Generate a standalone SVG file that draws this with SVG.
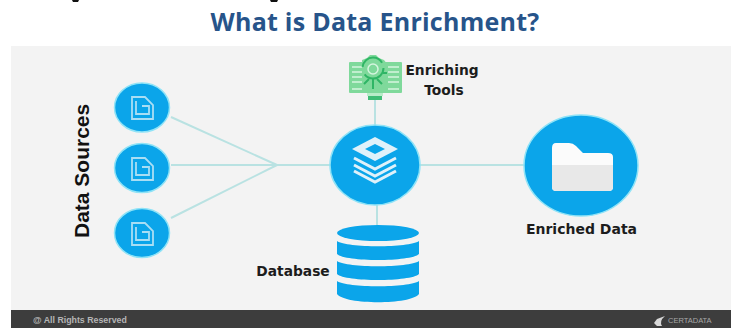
<svg xmlns="http://www.w3.org/2000/svg" width="731" height="328" viewBox="0 0 731 328">
<style>
.t{font-family:"DejaVu Sans",sans-serif;font-weight:700;fill:#1c1c1c;font-size:13.8px;text-anchor:middle}
.c{stroke:#b9e2e2;stroke-width:2;fill:none}
.b{fill:#0ba5ea}
.h{stroke:#8fe3f7;stroke-width:1.5}
.w{fill:#dff1fa}
.s{fill:none;stroke:#a9def4;stroke-width:1.8}
.g{fill:#7fd99b}
.gd{fill:none;stroke:#2fb565;stroke-width:2}
.gl{fill:none;stroke:#d6f5df;stroke-width:1.5}
</style>
<rect width="731" height="328" fill="#fff"/>
<rect x="11" y="46" width="720" height="282" fill="#f3f3f3"/>
<path d="M72 0h7l-1 2h-5zM270 0h8l-1 2h-6z" fill="#111"/>
<g id="title"><text x="375" y="31" text-anchor="middle" style="font-family:'Open Sans','Liberation Sans',sans-serif;font-weight:700;fill:#27548a;font-size:25px;letter-spacing:.25px">What is Data Enrichment?</text></g>
<g id="connectors">
<path class="c" d="M171 117L277 165M171 165H330M171 218L277 165M420 165H525M375 100V126M377 205V226"/>
</g>
<g id="source-label"><text transform="translate(88.500 238) rotate(-90)" style="font-family:'Liberation Sans',sans-serif;font-weight:700;fill:#111;font-size:21px">Data Sources</text></g>
<g id="source-1"><ellipse cx="142" cy="107.500" rx="27.500" ry="24.500" class="b h"/><path class="s" d="M132 97h13l8 8v14h-21zM136 101v13h13v-8h-7"/></g>
<g id="source-2"><ellipse cx="142" cy="168" rx="27.500" ry="24.500" class="b h"/><path class="s" d="M132 158h13l8 8v14h-21zM136 162v13h13v-8h-7"/></g>
<g id="source-3"><ellipse cx="142" cy="233" rx="27.500" ry="24.500" class="b h"/><path class="s" d="M132 223h13l8 8v14h-21zM136 227v13h13v-8h-7"/></g>
<g id="hub"><ellipse cx="375" cy="165" rx="45" ry="40" class="b h"/>
<path class="w" d="M375 137l23 12-23 12-23-12z"/><path fill="#0ba5ea" d="M375 144l10 5-10 5-10-5z"/>
<path d="M354 158l21 11 21-11M354 165l21 11 21-11M354 171l21 11 21-11" fill="none" stroke="#dff1fa" stroke-width="3"/></g>
<g id="tools">
<rect x="349" y="62" width="53" height="31" rx="1" class="g"/>
<path class="gl" d="M352 67h10M352 72h10M352 77h10M352 82h10M388 67h11M388 72h11M388 77h11M388 82h11M352 89h47"/>
<path class="g" d="M362 92V60l5-2 3-3h6l3 3 5 2 4 5v27z"/>
<circle cx="373" cy="68" r="10.500" class="gd" stroke-dasharray="26 8"/>
<circle cx="373" cy="69" r="5" class="gl"/>
<path class="gd" d="M373 79v10M364 84l5-5M382 84l-5-5M387 73h-4"/>
<rect x="367" y="93" width="16" height="3" fill="#b8ecc8"/><rect x="368" y="96" width="14" height="4" fill="#3fbd75"/>
<text class="t" x="442" y="75">Enriching</text>
<text class="t" x="444" y="95">Tools</text></g>
<g id="database">
<ellipse cx="378" cy="233" rx="41" ry="8" class="b"/>
<path class="b" d="M337 241c10 7 72 7 82 0v13c-8 8-74 8-82 0z"/>
<path class="b" d="M337 261c10 7 72 7 82 0v13c-8 8-74 8-82 0z"/>
<path class="b" d="M337 281c10 7 72 7 82 0v13c-8 11-74 11-82 0z"/>
<text class="t" x="293" y="276">Database</text></g>
<g id="enriched"><ellipse cx="581" cy="165.500" rx="57" ry="50.500" class="b h"/>
<path fill="#fbfbfb" d="M552 148q0-5 4-5h13q4 0 7 3l7 7h25q5 0 5 4v30q0 4-4 4h-53q-4 0-4-4z"/>
<path fill="#e8e8e8" d="M552 165h61v22q0 4-4 4h-53q-4 0-4-4z"/>
<text class="t" x="581.500" y="234" style="font-size:14px">Enriched Data</text></g>
<g id="footer"><rect x="11" y="310" width="720" height="18" fill="#3d3d3d"/>
<text x="33" y="323" font-size="8.800" font-weight="700" fill="#b5b5b5" font-family="'Liberation Sans',sans-serif">@ All Rights Reserved</text>
<path d="M665 316l-8 3-3 4 3 3h5q-3-5 3-10z" fill="#d8d8d8"/>
<text x="668" y="323" font-size="7.500" fill="#a8a8a8" font-family="'Liberation Sans',sans-serif">CERTADATA</text></g>
</svg>
